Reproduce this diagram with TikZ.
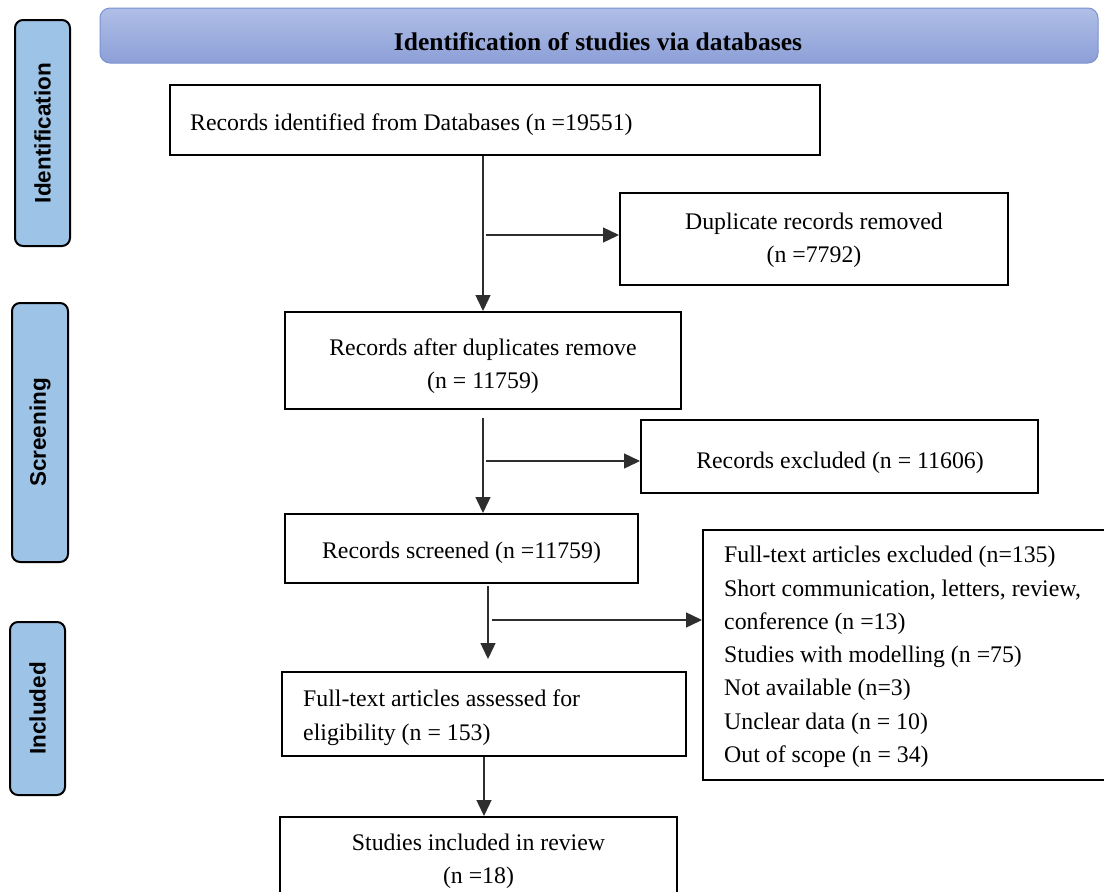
\documentclass[tikz,border=0pt]{standalone}
\usepackage{fontspec}
\setmainfont{Liberation Serif}
\newfontfamily\lblfont{Liberation Sans}
\usetikzlibrary{arrows.meta,calc}
\definecolor{sidefill}{HTML}{9DC3E6}
\definecolor{bantop}{HTML}{B0BFE7}
\definecolor{banbot}{HTML}{8C9FD7}
\definecolor{banedge}{HTML}{7A92CF}
\definecolor{linecol}{HTML}{2E2E2E}
\tikzset{
  box/.style={draw=black, line width=2pt, fill=white, inner sep=0pt},
  side/.style={draw=black, line width=2pt, fill=sidefill, rounded corners=8pt, rotate=90, inner sep=0pt,
     font=\lblfont\bfseries\fontsize{22.5}{26}\selectfont},
  arr/.style={draw=linecol, line width=1.4pt, -{Triangle[length=16pt,width=15pt]}},
  txt/.style={font=\fontsize{23.8}{33.3}\selectfont, inner sep=0pt}
}
\begin{document}
\begin{tikzpicture}[x=1pt,y=-1pt]
\clip (0,0) rectangle (1104,892);
\fill[white] (0,0) rectangle (1104,892);
% banner
\node[draw=banedge, line width=1pt, rounded corners=10pt, top color=bantop, bottom color=banbot,
  minimum width=998pt, minimum height=55pt, inner sep=0pt]
  (ban) at (599,35.5) {};
\node[inner sep=0pt, font=\bfseries\fontsize{25.5}{30}\selectfont] (bant) at (598,42) {Identification of studies via databases};
% side labels
\node[side, minimum width=226pt, minimum height=55pt] (sid) at (42.5,133) {Identification};
\node[side, minimum width=259pt, minimum height=56pt] (sscr) at (40,432.5) {Screening};
\node[side, minimum width=173pt, minimum height=55pt] (sinc) at (37.5,708.5) {Included};
% boxes
\node[box, minimum width=650pt, minimum height=70pt] (b1) at (495,120) {};
\node[txt, anchor=west] (t1) at (190,125) {Records identified from Databases (n =19551)};
\node[box, minimum width=388pt, minimum height=92pt] (dup) at (814,239) {};
\node[txt, align=center] (tdup) at (814,240.5) {Duplicate records removed\\(n =7792)};
\node[box, minimum width=396pt, minimum height=97pt] (b2) at (483,360.5) {};
\node[txt, align=center] (t2) at (483,366) {Records after duplicates remove\\(n = 11759)};
\node[box, minimum width=397pt, minimum height=73pt] (excl) at (839.5,456.5) {};
\node[txt] (texcl) at (840,463) {Records excluded (n = 11606)};
\node[box, minimum width=353pt, minimum height=69pt] (b3) at (461.5,548.5) {};
\node[txt] (t3) at (461.5,552.5) {Records screened (n =11759)};
\node[box, minimum width=420pt, minimum height=250pt] (fte) at (913,655) {};
\node[txt, anchor=north west, align=left] (ftet) at (724,546)
  {Full-text articles excluded (n=135)\\Short communication, letters, review,\\conference (n =13)\\Studies with modelling (n =75)\\Not available (n=3)\\Unclear data (n = 10)\\Out of scope (n = 34)};
\node[box, minimum width=404pt, minimum height=84pt] (b4) at (484,714) {};
\node[txt, anchor=north west, align=left] (t4) at (303,690)
  {Full-text articles assessed for\\eligibility (n = 153)};
\node[box, minimum width=397pt, minimum height=100pt] (b5) at (478.5,867) {};
\node[txt, align=center] (t5) at (478.5,861) {Studies included in review\\(n =18)};
% connectors
\coordinate (j1) at (486,235);
\coordinate (j2) at (486,461);
\coordinate (v3) at (488,586);
\coordinate (j3) at (492,620);
\draw[arr] (b2.north |- b1.south) -- (b2.north);
\draw[arr] (j1) -- (j1 -| dup.west);
\draw[arr, shorten <=8pt] (b2.south) -- (b2.south |- b3.north);
\draw[arr] (j2) -- (j2 -| excl.west);
\draw[arr, shorten >=12pt] (v3) -- (v3 |- b4.north);
\draw[arr] (j3) -- (j3 -| fte.west);
\draw[arr] (b4.south) -- (b4.south |- b5.north);
\end{tikzpicture}
\end{document}
